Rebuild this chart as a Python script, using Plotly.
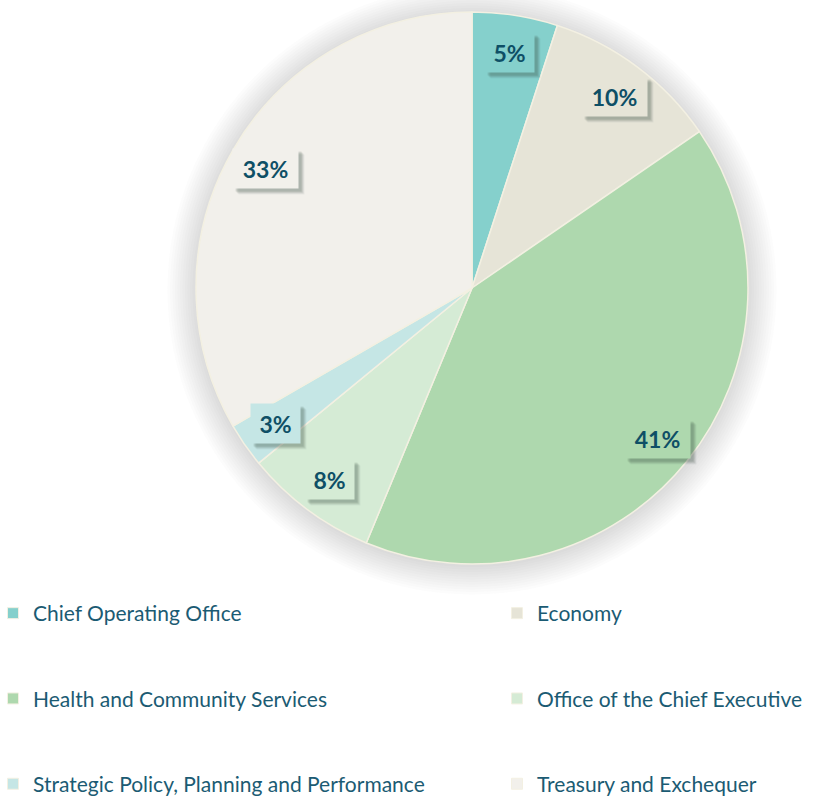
import math
import plotly.graph_objects as go

labels = ["Chief Operating Office", "Economy", "Health and Community Services",
          "Office of the Chief Executive", "Strategic Policy, Planning and Performance",
          "Treasury and Exchequer"]
values = [5.0, 10.4, 40.8, 7.8, 2.6, 33.3]
colors = ["#85D0CC", "#E6E4D7", "#AED8AE", "#D5EBD5", "#C5E6E5", "#F2F0EB"]

W, H = 813, 797
CX, CY, R = 472, 288, 276
TEXT = "#0E4F66"
LEG_TEXT = "#1B5B73"
FONT = "Lato, Carlito, Calibri, sans-serif"

fig = go.Figure()

# soft glow-like shadow behind the pie
for k in range(12):
    rr = R + 1 + k * 2.5
    fig.add_shape(type="circle", xref="paper", yref="paper", layer="below",
                  x0=(CX - rr) / W, x1=(CX + rr) / W,
                  y0=1 - (CY + 2 + rr) / H, y1=1 - (CY + 2 - rr) / H,
                  fillcolor="rgba(100,100,125,0.018)", line=dict(width=0))

fig.add_trace(go.Pie(
    labels=labels, values=values, sort=False, direction="clockwise", rotation=0,
    marker=dict(colors=colors, line=dict(color="#F3F0E2", width=1.5)),
    textinfo="none", hoverinfo="skip", showlegend=False,
    domain=dict(x=[(CX - R) / W, (CX + R) / W], y=[1 - (CY + R) / H, 1 - (CY - R) / H]),
))

# percentage labels in boxes, placed at the middle angle of each slice
total = sum(values)
cum = 0.0
for lab, v, c in zip(labels, values, colors):
    mid = (cum + v / 2) / total
    cum += v
    ang = 2 * math.pi * mid
    px = CX + 0.865 * R * math.sin(ang)
    py = CY - 0.865 * R * math.cos(ang)
    s = f"{round(100 * v / total)}%"
    txt = f"<b>{s}</b>"
    bw = 16 * len(s) + 5
    common = dict(xref="paper", yref="paper", x=px / W, y=1 - py / H, showarrow=False,
                  xanchor="center", yanchor="middle", borderpad=6, width=bw, height=27)
    for sx, sy, a in [(6, -6, 0.06), (5, -5, 0.10), (4, -4, 0.12), (3, -3, 0.12)]:
        fig.add_annotation(text="&nbsp;", bgcolor=f"rgba(50,70,60,{a})", xshift=sx, yshift=sy,
                           font=dict(family=FONT, size=23, color="rgba(0,0,0,0)"), **common)
    fig.add_annotation(text=txt, bgcolor=c, font=dict(family=FONT, size=23, color=TEXT), **common)

# legend entries: two columns, three rows
legend_names = ["legend", "legend2"]
for i, (lab, c) in enumerate(zip(labels, colors)):
    fig.add_trace(go.Scatter(
        x=[None], y=[None], mode="markers", name=lab,
        marker=dict(symbol="square", size=11, color=c, line=dict(color="#F3F0E2", width=1)),
        legend=legend_names[i % 2], legendgroup=f"g{i}", hoverinfo="skip",
    ))

col_x = [-7 / W, 497 / W]
layout_legends = {}
for j, name in enumerate(legend_names):
    layout_legends[name] = dict(
        orientation="v", x=col_x[j], xanchor="left", y=1 - 593 / H, yanchor="top",
        tracegroupgap=55, bgcolor="rgba(0,0,0,0)",
        font=dict(family=FONT, size=21, color=LEG_TEXT), traceorder="grouped",
    )

fig.update_layout(
    width=W, height=H, margin=dict(l=0, r=0, t=0, b=0, autoexpand=False),
    paper_bgcolor="white", plot_bgcolor="white",
    xaxis=dict(visible=False), yaxis=dict(visible=False),
    **layout_legends,
)

fig.write_html("out.html", config=dict(displayModeBar=False),
               post_script="document.body.style.margin='0';document.body.style.overflow='hidden';")
